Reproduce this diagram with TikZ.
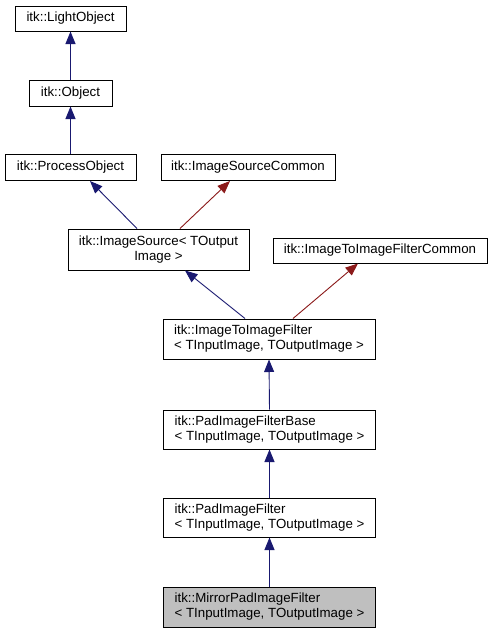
\documentclass[tikz,border=0pt]{standalone}
\usepackage{fontspec}
\setmainfont{Liberation Sans}
\usetikzlibrary{arrows.meta}
\definecolor{navyedge}{HTML}{191970}
\definecolor{rededge}{HTML}{8B1A1A}
\definecolor{curfill}{HTML}{BFBFBF}
\begin{document}
\begin{tikzpicture}[x=1pt,y=-1pt,
  cls/.style={draw=black, line width=1pt, fill=white, inner sep=0pt,
    font=\fontsize{13.3}{15}\selectfont},
  pub/.style={draw=navyedge, line width=0.9pt, -{Triangle[length=12.5pt,width=10pt]}},
  priv/.style={draw=rededge, line width=0.9pt, -{Triangle[length=12.5pt,width=10pt]}}]
\useasboundingbox (0,0) rectangle (492,633);
\node[cls, minimum width=111pt, minimum height=25pt] (lo) at (70.5,18.5) {itk::LightObject};
\node[cls, minimum width=83pt, minimum height=26pt] (ob) at (70.5,93) {itk::Object};
\node[cls, minimum width=131pt, minimum height=26pt] (po) at (70.5,167.5) {itk::ProcessObject};
\node[cls, minimum width=174pt, minimum height=26pt] (isc) at (248,167.5) {itk::ImageSourceCommon};
\node[cls, minimum width=181pt, minimum height=41pt, align=center] (is) at (158.5,249.5) {itk::ImageSource< TOutput\\Image >};
\node[cls, minimum width=214pt, minimum height=25pt] (itifc) at (380,250.5) {itk::ImageToImageFilterCommon};
\node[cls, minimum width=212pt, minimum height=40pt, align=left] (itif) at (269,339) {itk::ImageToImageFilter\\< TInputImage, TOutputImage >};
\node[cls, minimum width=212pt, minimum height=39pt, align=left] (pifb) at (269.5,429.5) {itk::PadImageFilterBase\\< TInputImage, TOutputImage >};
\node[cls, minimum width=212pt, minimum height=39pt, align=left] (pif) at (269.5,517.5) {itk::PadImageFilter\\< TInputImage, TOutputImage >};
\node[cls, fill=curfill, minimum width=212pt, minimum height=40pt, align=left] (mpif) at (269.5,607) {itk::MirrorPadImageFilter\\< TInputImage, TOutputImage >};
\draw[pub] (ob.north) -- (lo.south);
\draw[pub] (po.north) -- (ob.south);
\draw[pub] ([xshift=-21.5pt]is.north) -- ([xshift=19.5pt]po.south);
\draw[priv] ([xshift=21.5pt]is.north) -- ([xshift=-18pt]isc.south);
\draw[pub] ([xshift=-24pt]itif.north) -- ([xshift=26.5pt]is.south);
\draw[priv] ([xshift=24pt]itif.north) -- ([xshift=-22pt]itifc.south);
\draw[pub] (pifb.north) -- (itif.south);
\draw[pub] (pif.north) -- (pifb.south);
\draw[pub] (mpif.north) -- (pif.south);
\end{tikzpicture}
\end{document}
